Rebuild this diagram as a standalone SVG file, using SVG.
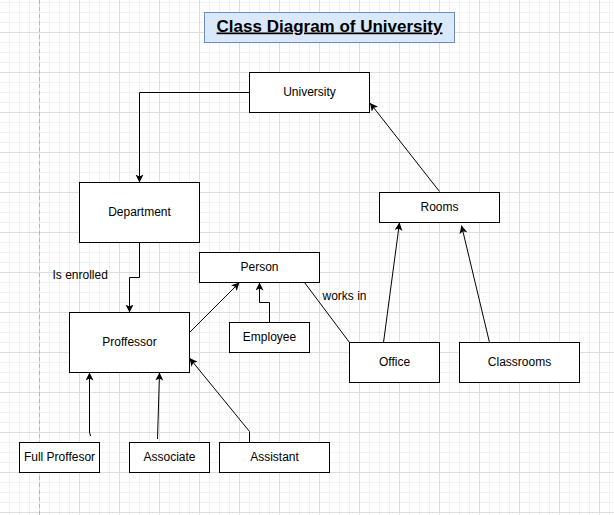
<svg xmlns="http://www.w3.org/2000/svg" width="614" height="515" viewBox="0 0 614 515">
<style>
.box{fill:#ffffff;stroke:#000000;stroke-width:1}
.lbl{font-family:"Liberation Sans",Arial,sans-serif;font-size:12px;fill:#000000;text-anchor:middle}
.free{font-family:"Liberation Sans",Arial,sans-serif;font-size:12px;fill:#000000}
.edge{fill:none;stroke:#000000;stroke-width:1}
</style>
<defs>
<pattern id="grid" patternUnits="userSpaceOnUse" x="0" y="0" width="40" height="40">
<path d="M9.5,0V40M19.5,0V40M29.5,0V40M0,2.5H40M0,12.5H40M0,22.5H40" stroke="#f1f1f1" stroke-width="1" fill="none"/>
<path d="M39.5,0V40M0,32.5H40" stroke="#dddddd" stroke-width="1" fill="none"/>
</pattern>
<marker id="arr" markerUnits="userSpaceOnUse" markerWidth="10" markerHeight="10" refX="8" refY="4" orient="auto">
<path d="M0,0 L8,4 L0,8 L2,4 Z" fill="#000000"/>
</marker>
</defs>
<rect x="0" y="0" width="614" height="515" fill="#ffffff"/>
<rect x="0" y="0" width="614" height="515" fill="url(#grid)"/>
<line x1="39.5" y1="0" x2="39.5" y2="515" stroke="#b5b5b5" stroke-width="1" stroke-dasharray="4,3"/>

<g id="title">
<rect x="204.5" y="12.5" width="250" height="30" fill="#dae8fc" stroke="#6c8ebf" stroke-width="1"/>
<text x="329.5" y="31.5" font-family="'Liberation Sans',Arial,sans-serif" font-size="17" font-weight="bold" text-anchor="middle" text-decoration="underline" fill="#000000">Class Diagram of University</text>
</g>

<g id="connectors">
<path class="edge" d="M249.5,92.5 H139.5 V182.5" marker-end="url(#arr)"/>
<path class="edge" d="M139.5,242.5 V277.5 H129.5 V312.5" marker-end="url(#arr)"/>
<path class="edge" d="M189.5,332.5 L239.5,282.5" marker-end="url(#arr)"/>
<path class="edge" d="M269.5,322.5 V302.5 H259.5 V282.5" marker-end="url(#arr)"/>
<path class="edge" d="M304.5,282.5 L349.5,342.5"/>
<path class="edge" d="M383.5,342.5 L399.5,222.5" marker-end="url(#arr)"/>
<path class="edge" d="M489.5,342.5 L461.5,225.5" marker-end="url(#arr)"/>
<path class="edge" d="M439.5,191.5 L370,103" marker-end="url(#arr)"/>
<path class="edge" d="M90.5,436 L89.5,432 V372.5" marker-end="url(#arr)"/>
<path class="edge" d="M157.5,439 L159.5,372.5" marker-end="url(#arr)"/>
<path class="edge" d="M249.5,442.5 V431.5 L189.5,358" marker-end="url(#arr)"/>
<text class="free" x="52.5" y="278.5">Is enrolled</text>
<text class="free" x="322.5" y="300">works in</text>
</g>

<g id="university">
<rect class="box" x="249.5" y="72.5" width="120" height="40"/>
<text class="lbl" x="309.5" y="95.5">University</text>
</g>
<g id="department">
<rect class="box" x="79.5" y="182.5" width="120" height="60"/>
<text class="lbl" x="139.5" y="215.5">Department</text>
</g>
<g id="rooms">
<rect class="box" x="379.5" y="192.5" width="120" height="30"/>
<text class="lbl" x="439.5" y="210.5">Rooms</text>
</g>
<g id="person">
<rect class="box" x="199.5" y="252.5" width="120" height="30"/>
<text class="lbl" x="259.5" y="270.5">Person</text>
</g>
<g id="proffessor">
<rect class="box" x="69.5" y="312.5" width="120" height="60"/>
<text class="lbl" x="129.5" y="345.5">Proffessor</text>
</g>
<g id="employee">
<rect class="box" x="229.5" y="322.5" width="80" height="30"/>
<text class="lbl" x="269.5" y="340.5">Employee</text>
</g>
<g id="office">
<rect class="box" x="349.5" y="342.5" width="90" height="40"/>
<text class="lbl" x="394.5" y="365.5">Office</text>
</g>
<g id="classrooms">
<rect class="box" x="459.5" y="342.5" width="120" height="40"/>
<text class="lbl" x="519.5" y="365.5">Classrooms</text>
</g>
<g id="fullproffesor">
<rect class="box" x="19.5" y="442.5" width="80" height="30"/>
<text class="lbl" x="59.5" y="460.5">Full Proffesor</text>
</g>
<g id="associate">
<rect class="box" x="129.5" y="442.5" width="80" height="30"/>
<text class="lbl" x="169.5" y="460.5">Associate</text>
</g>
<g id="assistant">
<rect class="box" x="219.5" y="442.5" width="110" height="30"/>
<text class="lbl" x="274.5" y="460.5">Assistant</text>
</g>
</svg>
